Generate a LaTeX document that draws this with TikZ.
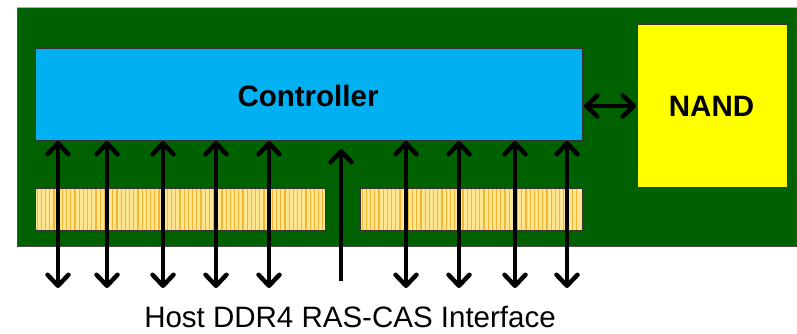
\documentclass[tikz,border=0pt]{standalone}
\usepackage{fontspec}
\setmainfont{Liberation Sans}
\usetikzlibrary{arrows.meta}
\definecolor{board}{HTML}{006100}
\definecolor{ctrl}{HTML}{00B0F0}
\definecolor{nandc}{HTML}{FFFF00}
\definecolor{goldA}{HTML}{FDE68F}
\definecolor{goldB}{HTML}{F2B535}
\tikzset{
  box/.style={draw=black!80, line width=1pt},
  tipA/.tip={Straight Barb[length=11pt,width=21pt,line width=4.5pt,round]},
  sig/.style={line width=4.5pt, tipA-tipA},
  sigup/.style={line width=4.5pt, -tipA},
  lbl/.style={font=\fontsize{29.5}{32}\selectfont\bfseries}
}
\begin{document}
\begin{tikzpicture}[x=1pt,y=-1pt]
\useasboundingbox (0,0) rectangle (797,334);
\fill[white] (0,0) rectangle (797,334);
% board
\draw[draw=black!70, line width=1pt, fill=board] (17,8) rectangle (800,246);
\draw[gray!60, line width=0.8pt] (17,7.2) -- (797,7.2);
% gold strips
\foreach \xa/\xb/\nm in {35/325/stripL, 360/582/stripR}{
  \fill[goldA] (\xa,188) rectangle (\xb,230);
  \pgfmathtruncatemacro{\n}{(\xb-\xa)/4.2-1}
  \foreach \i in {0,...,\n}{
    \fill[goldB] ({\xa+1.5+\i*4.2},188) rectangle ({\xa+2.8+\i*4.2},230);
  }
  \node[box, minimum width={\xb-\xa}, minimum height=42, inner sep=0, anchor=north west] (\nm) at (\xa,188) {};
}
% controller
\node[box, fill=ctrl, minimum width=547, minimum height=92, inner sep=0, anchor=north west] (ctrl) at (35,48) {};
\node[lbl] (ctrltxt) at (308,96) {Controller};
% NAND
\node[box, fill=nandc, minimum width=150, minimum height=163, inner sep=0, anchor=north west] (nand) at (637,24) {};
\node[lbl] (nandtxt) at (711.5,106) {NAND};
% ctrl-nand arrow
\draw[sig] ([xshift=1pt]ctrl.east |- 0,106) -- ([xshift=-1pt]nand.west |- 0,106);
% bus arrows
\foreach \x/\k in {58/a,107/b,163/c,216/d,269/e,406/f,459/g,515/h,567/i}{
  \coordinate (t\k) at (\x,141);
  \coordinate (b\k) at (\x,288);
  \draw[sig] (b\k) -- (t\k);
}
\coordinate (ub) at (341,281);
\coordinate (ut) at (341,149);
\draw[sigup] (ub) -- (ut);
% label
\node[font=\fontsize{29.5}{32}\selectfont, anchor=base] (hostlbl) at (350,327) {Host DDR4 RAS-CAS Interface};
\end{tikzpicture}
\end{document}
